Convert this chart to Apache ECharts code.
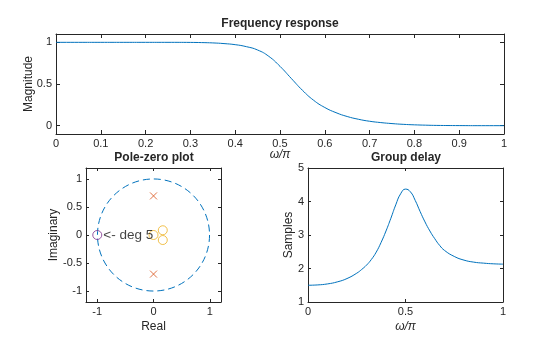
<!DOCTYPE html>
<html>
<head>
<meta charset="utf-8">
<script src="https://cdn.jsdelivr.net/npm/echarts@6/dist/echarts.min.js"></script>
<style>
  html, body { margin: 0; padding: 0; background: #fff; }
  #chart { width: 560px; height: 337px; }
</style>
</head>
<body>
<div id="chart"></div>
<script>
// Normalised frequency (×π rad/sample) and magnitude of the low-pass response
const magFreq = [0, 0.05, 0.1, 0.15, 0.2, 0.25, 0.3, 0.325, 0.35, 0.375, 0.4, 0.425, 0.45, 0.475,
  0.5, 0.525, 0.55, 0.575, 0.6, 0.625, 0.65, 0.675, 0.7, 0.725, 0.75, 0.775, 0.8, 0.825, 0.85, 0.9, 0.95, 1];
const magnitude = [1, 1, 1, 1, 1, 1, 0.999, 0.997, 0.993, 0.985, 0.972, 0.948, 0.908, 0.832,
  0.712, 0.568, 0.425, 0.305, 0.218, 0.156, 0.11, 0.077, 0.053, 0.037, 0.025, 0.016, 0.01, 0.006, 0.003, 0.001, 0, 0];

// Group delay in samples
const gdFreq = [0, 0.05, 0.1, 0.15, 0.2, 0.25, 0.275, 0.3, 0.325, 0.35, 0.375, 0.4, 0.425, 0.45, 0.475,
  0.5, 0.525, 0.55, 0.575, 0.6, 0.625, 0.65, 0.675, 0.7, 0.75, 0.8, 0.85, 0.9, 0.95, 1];
const groupDelay = [1.5, 1.51, 1.54, 1.6, 1.7, 1.86, 1.97, 2.1, 2.27, 2.49, 2.78, 3.12, 3.5, 3.9, 4.23,
  4.37, 4.29, 4.03, 3.7, 3.39, 3.12, 2.89, 2.69, 2.54, 2.36, 2.25, 2.19, 2.16, 2.14, 2.13];

// Pole-zero locations
const multiZeroRe = [-1];
const multiZeroIm = [0];
const multiZeroDegree = 5;
const zeroRe = [0, 0.165, 0.165];
const zeroIm = [0, 0.085, -0.09];
const poleRe = [0, 0];
const poleIm = [0.7, -0.7];

// Tick values
const magTicks = [0, 0.5, 1];
const pzTicksX = [-1, 0, 1];
const pzTicksY = [-1, -0.5, 0, 0.5, 1];

const TXT = '#262626';
const FONT = '"Liberation Sans", Arial, Helvetica, sans-serif';
const BLUE = '#0072BD';

function zip(a, b) { return a.map((v, i) => [v, b[i]]); }

function axis(gridIndex, position, cfg) {
  const isMain = position === 'bottom' || position === 'left';
  const a = {
    type: 'value',
    gridIndex,
    position,
    min: cfg.min,
    max: cfg.max,
    axisLine: { show: true, onZero: false, lineStyle: { color: TXT, width: 1 } },
    axisTick: { show: true, inside: true, length: cfg.tickLen, lineStyle: { color: TXT, width: 1 } },
    axisLabel: { show: isMain, color: TXT, fontSize: 11, fontFamily: FONT, margin: cfg.labelMargin || 4 },
    splitLine: { show: false }
  };
  if (cfg.interval != null) a.interval = cfg.interval;
  if (cfg.ticks) {
    a.axisTick.customValues = cfg.ticks;
    a.axisLabel.customValues = cfg.ticks;
  }
  if (isMain && cfg.name) {
    a.name = cfg.name;
    a.nameLocation = 'middle';
    a.nameGap = cfg.nameGap;
    a.nameMoveOverlap = false;
    a.nameTextStyle = { color: TXT, fontSize: 12, fontFamily: FONT, fontStyle: cfg.italic ? 'italic' : 'normal' };
  }
  return a;
}

const magX = { min: 0, max: 1, interval: 0.1, tickLen: 4, name: 'ω/π', italic: true, nameGap: 15 };
const magY = { min: -0.1, max: 1.1, ticks: magTicks, tickLen: 4, name: 'Magnitude', nameGap: 21 };
const pzX = { min: -1.2, max: 1.2, ticks: pzTicksX, tickLen: 3, name: 'Real', nameGap: 19 };
const pzY = { min: -1.2, max: 1.2, ticks: pzTicksY, tickLen: 3, name: 'Imaginary', nameGap: 26 };
const gdX = { min: 0, max: 1, interval: 0.5, tickLen: 3, name: 'ω/π', italic: true, nameGap: 19 };
const gdY = { min: 1, max: 5, interval: 1, tickLen: 3, name: 'Samples', nameGap: 13 };

const chart = echarts.init(document.getElementById('chart'), null, { renderer: 'canvas' });

const titleStyle = { fill: TXT, font: 'bold 12px ' + FONT, align: 'center', verticalAlign: 'middle' };

chart.setOption({
  animation: false,
  backgroundColor: '#fff',
  graphic: [
    { type: 'text', x: 280, y: 24, style: Object.assign({ text: 'Frequency response' }, titleStyle) },
    { type: 'text', x: 154, y: 158, style: Object.assign({ text: 'Pole-zero plot' }, titleStyle) },
    { type: 'text', x: 406, y: 158, style: Object.assign({ text: 'Group delay' }, titleStyle) }
  ],
  grid: [
    { left: 56, top: 34, width: 448, height: 100 },
    { left: 86, top: 168, width: 135, height: 134 },
    { left: 308, top: 168, width: 195, height: 134 }
  ],
  xAxis: [
    axis(0, 'bottom', magX), axis(0, 'top', magX),
    axis(1, 'bottom', pzX), axis(1, 'top', pzX),
    axis(2, 'bottom', gdX), axis(2, 'top', gdX)
  ],
  yAxis: [
    axis(0, 'left', magY), axis(0, 'right', magY),
    axis(1, 'left', pzY), axis(1, 'right', pzY),
    axis(2, 'left', gdY), axis(2, 'right', gdY)
  ],
  series: [
    {
      type: 'line', xAxisIndex: 0, yAxisIndex: 0,
      data: zip(magFreq, magnitude),
      showSymbol: false, smooth: 0.5,
      lineStyle: { color: BLUE, width: 1 }
    },
    {
      // unit circle, radius taken in data units through the axis scales
      type: 'custom', xAxisIndex: 2, yAxisIndex: 2, silent: true,
      data: [[0, 0, 1]],
      renderItem: function (params, api) {
        const c = api.coord([api.value(0), api.value(1)]);
        const s = api.size([api.value(2), api.value(2)]);
        return {
          type: 'circle',
          shape: { cx: c[0], cy: c[1], r: (s[0] + s[1]) / 2 },
          style: { fill: 'none', stroke: BLUE, lineWidth: 1, lineDash: [7, 4] }
        };
      }
    },
    {
      type: 'scatter', xAxisIndex: 2, yAxisIndex: 2,
      data: zip(zeroRe, zeroIm),
      symbol: 'circle', symbolSize: 9,
      itemStyle: { color: 'rgba(0,0,0,0)', borderColor: '#EDB120', borderWidth: 1 }
    },
    {
      type: 'scatter', xAxisIndex: 2, yAxisIndex: 2,
      data: zip(poleRe, poleIm),
      symbol: 'path://M0,0L10,10M10,0L0,10', symbolSize: 7,
      itemStyle: { color: 'none', borderColor: '#D95319', borderWidth: 1 }
    },
    {
      type: 'scatter', xAxisIndex: 2, yAxisIndex: 2,
      data: zip(multiZeroRe, multiZeroIm),
      symbol: 'circle', symbolSize: 9,
      itemStyle: { color: 'rgba(0,0,0,0)', borderColor: '#7E2F8E', borderWidth: 1 },
      label: {
        show: true, position: 'right', distance: 1,
        formatter: '<- deg ' + multiZeroDegree,
        color: '#111', fontSize: 13.5, fontFamily: FONT
      }
    },
    {
      type: 'line', xAxisIndex: 4, yAxisIndex: 4,
      data: zip(gdFreq, groupDelay),
      showSymbol: false, smooth: 0.5,
      lineStyle: { color: BLUE, width: 1 }
    }
  ]
});
</script>
</body>
</html>
